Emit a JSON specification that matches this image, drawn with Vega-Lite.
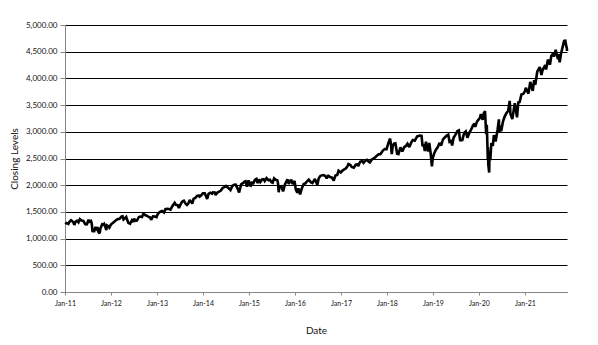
{
  "$schema": "https://vega.github.io/schema/vega-lite/v6.json",
  "width": 502,
  "height": 267,
  "autosize": {"type": "none"},
  "padding": {"left": 65, "top": 25, "right": 31, "bottom": 53},
  "background": "white",
  "config": {
    "view": {"stroke": null},
    "font": "Lato",
    "axis": {"labelFont": "Lato", "titleFont": "Lato", "labelColor": "#111111", "titleColor": "#111111", "titleFontWeight": "normal"}
  },
  "data": {
    "values": [
      {"d":"2011-01-03","v":1271},{"d":"2011-01-14","v":1293},{"d":"2011-01-28","v":1276},{"d":"2011-02-04","v":1310},{"d":"2011-02-18","v":1343},{"d":"2011-02-28","v":1327},{"d":"2011-03-10","v":1295},{"d":"2011-03-16","v":1256},{"d":"2011-03-25","v":1314},{"d":"2011-04-06","v":1335},{"d":"2011-04-18","v":1305},{"d":"2011-04-29","v":1364},{"d":"2011-05-13","v":1338},{"d":"2011-05-27","v":1331},{"d":"2011-06-10","v":1271},{"d":"2011-06-15","v":1265},{"d":"2011-06-24","v":1268},{"d":"2011-07-07","v":1353},{"d":"2011-07-15","v":1316},{"d":"2011-07-26","v":1331},{"d":"2011-08-01","v":1287},{"d":"2011-08-08","v":1119},{"d":"2011-08-12","v":1178},{"d":"2011-08-19","v":1123},{"d":"2011-08-31","v":1219},{"d":"2011-09-09","v":1154},{"d":"2011-09-16","v":1216},{"d":"2011-09-22","v":1129},{"d":"2011-10-03","v":1099},{"d":"2011-10-10","v":1195},{"d":"2011-10-27","v":1285},{"d":"2011-10-31","v":1253},{"d":"2011-11-08","v":1275},{"d":"2011-11-18","v":1216},{"d":"2011-11-25","v":1159},{"d":"2011-11-30","v":1247},{"d":"2011-12-08","v":1234},{"d":"2011-12-19","v":1205},{"d":"2011-12-30","v":1258},
      {"d":"2012-01-13","v":1289},{"d":"2012-01-27","v":1316},{"d":"2012-02-10","v":1343},{"d":"2012-02-24","v":1365},{"d":"2012-03-09","v":1370},{"d":"2012-03-26","v":1416},{"d":"2012-04-02","v":1419},{"d":"2012-04-10","v":1358},{"d":"2012-04-20","v":1379},{"d":"2012-05-01","v":1405},{"d":"2012-05-18","v":1295},{"d":"2012-06-01","v":1278},{"d":"2012-06-15","v":1343},{"d":"2012-06-25","v":1313},{"d":"2012-07-03","v":1374},{"d":"2012-07-12","v":1334},{"d":"2012-07-25","v":1338},{"d":"2012-08-10","v":1405},{"d":"2012-08-21","v":1413},{"d":"2012-09-04","v":1404},{"d":"2012-09-14","v":1466},{"d":"2012-09-28","v":1441},{"d":"2012-10-12","v":1428},{"d":"2012-10-23","v":1413},{"d":"2012-11-07","v":1395},{"d":"2012-11-15","v":1353},{"d":"2012-11-30","v":1416},{"d":"2012-12-14","v":1414},{"d":"2012-12-28","v":1402},{"d":"2012-12-31","v":1426},
      {"d":"2013-01-11","v":1472},{"d":"2013-01-25","v":1503},{"d":"2013-02-08","v":1518},{"d":"2013-02-25","v":1488},{"d":"2013-03-08","v":1551},{"d":"2013-03-22","v":1556},{"d":"2013-04-05","v":1553},{"d":"2013-04-18","v":1541},{"d":"2013-04-30","v":1598},{"d":"2013-05-10","v":1633},{"d":"2013-05-21","v":1669},{"d":"2013-05-31","v":1631},{"d":"2013-06-14","v":1626},{"d":"2013-06-24","v":1573},{"d":"2013-07-05","v":1632},{"d":"2013-07-19","v":1692},{"d":"2013-08-02","v":1709},{"d":"2013-08-16","v":1655},{"d":"2013-08-27","v":1631},{"d":"2013-09-06","v":1655},{"d":"2013-09-18","v":1725},{"d":"2013-10-08","v":1656},{"d":"2013-10-18","v":1744},{"d":"2013-11-01","v":1762},{"d":"2013-11-15","v":1798},{"d":"2013-11-29","v":1806},{"d":"2013-12-05","v":1785},{"d":"2013-12-18","v":1810},{"d":"2013-12-31","v":1848},
      {"d":"2014-01-15","v":1848},{"d":"2014-02-03","v":1741},{"d":"2014-02-14","v":1838},{"d":"2014-02-28","v":1859},{"d":"2014-03-14","v":1841},{"d":"2014-03-21","v":1866},{"d":"2014-04-04","v":1865},{"d":"2014-04-11","v":1815},{"d":"2014-04-25","v":1863},{"d":"2014-05-09","v":1878},{"d":"2014-05-23","v":1900},{"d":"2014-06-06","v":1949},{"d":"2014-06-20","v":1963},{"d":"2014-07-03","v":1985},{"d":"2014-07-17","v":1958},{"d":"2014-07-31","v":1930},{"d":"2014-08-07","v":1910},{"d":"2014-08-22","v":1988},{"d":"2014-09-05","v":2007},{"d":"2014-09-18","v":2011},{"d":"2014-10-01","v":1946},{"d":"2014-10-15","v":1862},{"d":"2014-10-31","v":2018},{"d":"2014-11-14","v":2039},{"d":"2014-11-28","v":2068},{"d":"2014-12-05","v":2075},{"d":"2014-12-16","v":1973},{"d":"2014-12-29","v":2091},
      {"d":"2015-01-06","v":2003},{"d":"2015-01-15","v":1993},{"d":"2015-01-22","v":2063},{"d":"2015-02-02","v":2020},{"d":"2015-02-17","v":2100},{"d":"2015-03-02","v":2117},{"d":"2015-03-11","v":2040},{"d":"2015-03-20","v":2108},{"d":"2015-04-01","v":2060},{"d":"2015-04-15","v":2107},{"d":"2015-04-28","v":2114},{"d":"2015-05-06","v":2080},{"d":"2015-05-21","v":2131},{"d":"2015-06-05","v":2092},{"d":"2015-06-17","v":2100},{"d":"2015-06-29","v":2057},{"d":"2015-07-08","v":2046},{"d":"2015-07-20","v":2128},{"d":"2015-07-31","v":2104},{"d":"2015-08-14","v":2092},{"d":"2015-08-20","v":2035},{"d":"2015-08-25","v":1868},{"d":"2015-08-31","v":1972},{"d":"2015-09-15","v":1979},{"d":"2015-09-29","v":1884},{"d":"2015-10-15","v":2024},{"d":"2015-11-03","v":2109},{"d":"2015-11-13","v":2023},{"d":"2015-11-27","v":2090},{"d":"2015-12-04","v":2091},{"d":"2015-12-14","v":2021},{"d":"2015-12-29","v":2078},
      {"d":"2016-01-08","v":1922},{"d":"2016-01-20","v":1859},{"d":"2016-01-29","v":1940},{"d":"2016-02-11","v":1829},{"d":"2016-02-26","v":1948},{"d":"2016-03-11","v":2022},{"d":"2016-03-24","v":2035},{"d":"2016-04-04","v":2066},{"d":"2016-04-20","v":2102},{"d":"2016-05-06","v":2057},{"d":"2016-05-19","v":2040},{"d":"2016-06-08","v":2119},{"d":"2016-06-27","v":2001},{"d":"2016-07-08","v":2130},{"d":"2016-07-22","v":2175},{"d":"2016-08-15","v":2190},{"d":"2016-08-31","v":2171},{"d":"2016-09-09","v":2128},{"d":"2016-09-22","v":2177},{"d":"2016-10-07","v":2153},{"d":"2016-10-21","v":2141},{"d":"2016-11-04","v":2085},{"d":"2016-11-18","v":2182},{"d":"2016-12-02","v":2192},{"d":"2016-12-13","v":2271},{"d":"2016-12-30","v":2239},
      {"d":"2017-01-13","v":2275},{"d":"2017-01-27","v":2295},{"d":"2017-02-10","v":2316},{"d":"2017-02-24","v":2367},{"d":"2017-03-01","v":2396},{"d":"2017-03-17","v":2378},{"d":"2017-03-27","v":2342},{"d":"2017-04-13","v":2329},{"d":"2017-04-28","v":2384},{"d":"2017-05-12","v":2391},{"d":"2017-05-17","v":2357},{"d":"2017-06-02","v":2439},{"d":"2017-06-19","v":2453},{"d":"2017-06-29","v":2419},{"d":"2017-07-14","v":2459},{"d":"2017-07-27","v":2475},{"d":"2017-08-10","v":2438},{"d":"2017-08-18","v":2425},{"d":"2017-09-01","v":2477},{"d":"2017-09-15","v":2500},{"d":"2017-09-29","v":2519},{"d":"2017-10-13","v":2553},{"d":"2017-10-27","v":2581},{"d":"2017-11-10","v":2582},{"d":"2017-11-30","v":2648},{"d":"2017-12-15","v":2676},{"d":"2017-12-29","v":2674},
      {"d":"2018-01-12","v":2786},{"d":"2018-01-26","v":2873},{"d":"2018-02-02","v":2762},{"d":"2018-02-08","v":2581},{"d":"2018-02-16","v":2732},{"d":"2018-02-26","v":2780},{"d":"2018-03-09","v":2786},{"d":"2018-03-23","v":2588},{"d":"2018-04-02","v":2582},{"d":"2018-04-18","v":2708},{"d":"2018-05-03","v":2630},{"d":"2018-05-18","v":2713},{"d":"2018-06-01","v":2735},{"d":"2018-06-13","v":2776},{"d":"2018-06-28","v":2716},{"d":"2018-07-13","v":2801},{"d":"2018-07-25","v":2846},{"d":"2018-08-10","v":2833},{"d":"2018-08-29","v":2914},{"d":"2018-09-20","v":2931},{"d":"2018-10-03","v":2926},{"d":"2018-10-11","v":2729},{"d":"2018-10-19","v":2768},{"d":"2018-10-29","v":2641},{"d":"2018-11-07","v":2814},{"d":"2018-11-23","v":2633},{"d":"2018-12-03","v":2790},{"d":"2018-12-14","v":2600},{"d":"2018-12-24","v":2351},{"d":"2018-12-31","v":2507},
      {"d":"2019-01-11","v":2596},{"d":"2019-01-25","v":2665},{"d":"2019-02-08","v":2708},{"d":"2019-02-22","v":2793},{"d":"2019-03-08","v":2743},{"d":"2019-03-21","v":2855},{"d":"2019-04-05","v":2893},{"d":"2019-04-23","v":2934},{"d":"2019-05-03","v":2946},{"d":"2019-05-13","v":2812},{"d":"2019-05-24","v":2826},{"d":"2019-06-03","v":2744},{"d":"2019-06-14","v":2887},{"d":"2019-06-28","v":2942},{"d":"2019-07-15","v":3014},{"d":"2019-07-26","v":3026},{"d":"2019-08-05","v":2844},{"d":"2019-08-14","v":2840},{"d":"2019-08-23","v":2847},{"d":"2019-09-06","v":2979},{"d":"2019-09-19","v":3006},{"d":"2019-10-02","v":2888},{"d":"2019-10-18","v":2986},{"d":"2019-10-31","v":3038},{"d":"2019-11-15","v":3120},{"d":"2019-11-27","v":3154},{"d":"2019-12-03","v":3093},{"d":"2019-12-17","v":3192},{"d":"2019-12-31","v":3231},
      {"d":"2020-01-10","v":3265},{"d":"2020-01-17","v":3330},{"d":"2020-01-31","v":3226},{"d":"2020-02-10","v":3352},{"d":"2020-02-19","v":3386},{"d":"2020-02-28","v":2954},{"d":"2020-03-04","v":3130},{"d":"2020-03-09","v":2747},{"d":"2020-03-12","v":2481},{"d":"2020-03-13","v":2711},{"d":"2020-03-16","v":2386},{"d":"2020-03-23","v":2237},{"d":"2020-03-26","v":2631},{"d":"2020-04-01","v":2471},{"d":"2020-04-09","v":2790},{"d":"2020-04-21","v":2737},{"d":"2020-04-29","v":2940},{"d":"2020-05-13","v":2820},{"d":"2020-05-29","v":3044},{"d":"2020-06-08","v":3232},{"d":"2020-06-11","v":3002},{"d":"2020-06-22","v":3117},{"d":"2020-06-26","v":3009},{"d":"2020-07-10","v":3185},{"d":"2020-07-22","v":3276},{"d":"2020-08-07","v":3351},{"d":"2020-08-20","v":3385},{"d":"2020-09-02","v":3580},{"d":"2020-09-08","v":3332},{"d":"2020-09-23","v":3237},{"d":"2020-10-12","v":3534},{"d":"2020-10-30","v":3270},{"d":"2020-11-09","v":3550},{"d":"2020-11-20","v":3558},{"d":"2020-12-04","v":3699},{"d":"2020-12-18","v":3709},{"d":"2020-12-31","v":3756},
      {"d":"2021-01-08","v":3825},{"d":"2021-01-29","v":3714},{"d":"2021-02-12","v":3934},{"d":"2021-03-04","v":3768},{"d":"2021-03-15","v":3968},{"d":"2021-03-24","v":3881},{"d":"2021-04-09","v":4129},{"d":"2021-04-29","v":4211},{"d":"2021-05-12","v":4063},{"d":"2021-05-21","v":4156},{"d":"2021-06-11","v":4247},{"d":"2021-06-18","v":4166},{"d":"2021-07-02","v":4352},{"d":"2021-07-19","v":4258},{"d":"2021-07-29","v":4419},{"d":"2021-08-13","v":4468},{"d":"2021-08-19","v":4406},{"d":"2021-09-02","v":4537},{"d":"2021-09-20","v":4358},{"d":"2021-09-24","v":4455},{"d":"2021-10-04","v":4300},{"d":"2021-10-15","v":4471},{"d":"2021-10-29","v":4605},{"d":"2021-11-08","v":4701},{"d":"2021-11-18","v":4705},{"d":"2021-11-26","v":4595},{"d":"2021-11-30","v":4567},{"d":"2021-12-01","v":4513}
    ]
  },
  "mark": {"type": "line", "color": "black", "strokeWidth": 2.6, "strokeJoin": "miter", "strokeMiterLimit": 2},
  "encoding": {
    "x": {
      "field": "d",
      "type": "temporal",
      "scale": {"type": "utc", "domain": [{"year": 2011, "month": 1, "date": 1, "utc": true}, {"year": 2021, "month": 12, "date": 1, "utc": true}], "nice": false},
      "axis": {
        "title": "Date",
        "titleFontSize": 10,
        "titleY": 38,
        "titleBaseline": "middle",
        "labelExpr": "utcFormat(datum.value, '%b-%y')",
        "values": [
          {"year": 2011, "month": 1, "date": 1, "utc": true},
          {"year": 2012, "month": 1, "date": 1, "utc": true},
          {"year": 2013, "month": 1, "date": 1, "utc": true},
          {"year": 2014, "month": 1, "date": 1, "utc": true},
          {"year": 2015, "month": 1, "date": 1, "utc": true},
          {"year": 2016, "month": 1, "date": 1, "utc": true},
          {"year": 2017, "month": 1, "date": 1, "utc": true},
          {"year": 2018, "month": 1, "date": 1, "utc": true},
          {"year": 2019, "month": 1, "date": 1, "utc": true},
          {"year": 2020, "month": 1, "date": 1, "utc": true},
          {"year": 2021, "month": 1, "date": 1, "utc": true}
        ],
        "labelFontSize": 7,
        "labelPadding": 4,
        "labelFlush": false,
        "labelOverlap": false,
        "grid": false,
        "domainColor": "#868686",
        "tickColor": "#868686",
        "tickSize": 3
      }
    },
    "y": {
      "field": "v",
      "type": "quantitative",
      "scale": {"domain": [0, 5000], "nice": false, "zero": true},
      "axis": {
        "title": "Closing Levels",
        "titleFontSize": 10,
        "titleX": -51,
        "titleBaseline": "middle",
        "values": [0, 500, 1000, 1500, 2000, 2500, 3000, 3500, 4000, 4500, 5000],
        "format": ",.2f",
        "labelFontSize": 8,
        "labelPadding": 3,
        "labelFlush": false,
        "grid": true,
        "gridColor": "black",
        "gridOpacity": 1,
        "gridWidth": 1,
        "domainColor": "#868686",
        "tickColor": "#868686",
        "tickSize": 5
      }
    }
  }
}
